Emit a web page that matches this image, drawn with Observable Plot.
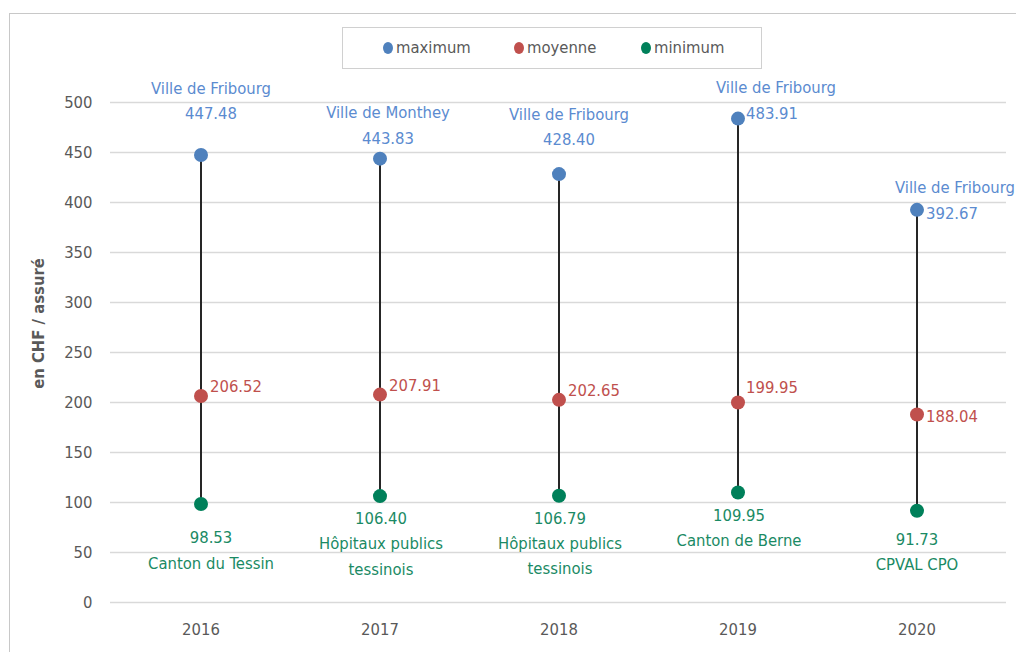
<!DOCTYPE html>
<html>
<head>
<meta charset="utf-8">
<script src="https://cdn.jsdelivr.net/npm/d3@7"></script>
<script src="https://cdn.jsdelivr.net/npm/@observablehq/plot@0.6"></script>
<style>
  html, body { margin: 0; padding: 0; background: #fff; }
  body { width: 1016px; height: 652px; overflow: hidden; position: relative;
         font-family: "Liberation Sans Narrow", "DejaVu Sans Condensed", "Roboto", sans-serif; }
  #frame { position: absolute; left: 9px; top: 13px; width: 1020px; height: 660px;
           border: 1px solid #c8c8c8; box-sizing: border-box; }
  #legend { position: absolute; left: 342px; top: 27px; width: 420px; height: 42px;
            border: 1px solid #d0d0d0; box-sizing: border-box; background: #fff; }
  .item { position: absolute; top: 9px; font-size: 16.5px; color: #595959; line-height: 22px; }
  .dot { display: inline-block; width: 10px; height: 12px; border-radius: 50%;
         margin-right: 3px; vertical-align: -1px; }
  #chart { position: absolute; left: 0; top: 80px; }
  #chart svg { overflow: visible; }
</style>
</head>
<body>
<div id="frame"></div>
<div id="legend"></div>
<div id="chart"></div>
<script>
const years = ["2016", "2017", "2018", "2019", "2020"];
const maxVals = [447.48, 443.83, 428.40, 483.91, 392.67];
const meanVals = [206.52, 207.91, 202.65, 199.95, 188.04];
const minVals = [98.53, 106.40, 106.79, 109.95, 91.73];
const maxNames = ["Ville de Fribourg", "Ville de Monthey", "Ville de Fribourg", "Ville de Fribourg", "Ville de Fribourg"];
const minNames = ["Canton du Tessin", "Hôpitaux publics\ntessinois", "Hôpitaux publics\ntessinois", "Canton de Berne", "CPVAL CPO"];
const yTicks = [0, 50, 100, 150, 200, 250, 300, 350, 400, 450, 500];
const seriesNames = ["maximum", "moyenne", "minimum"];
const seriesColors = ["#4F81BD", "#C0504D", "#00805A"];
const textColors = ["#5B8BD0", "#C0504D", "#1A8A64"];

const rows = years.map((y, i) => ({
  year: y, max: maxVals[i], mean: meanVals[i], min: minVals[i],
  maxName: maxNames[i], minName: minNames[i]
}));

const fmt = v => v.toFixed(2);
const FONT = "16.5px";
const pick = ys => rows.filter(r => ys.includes(r.year));

// legend
const legend = document.getElementById("legend");
const legendX = [40, 171, 298];
seriesNames.forEach((n, i) => {
  const d = document.createElement("div");
  d.className = "item";
  d.style.left = legendX[i] + "px";
  d.innerHTML = `<span class="dot" style="background:${seriesColors[i]}"></span>${n}`;
  legend.appendChild(d);
});

const chart = Plot.plot({
  width: 1016,
  height: 572,
  marginLeft: 110,
  marginRight: 10,
  marginTop: 22,
  marginBottom: 50,
  style: { fontFamily: '"Liberation Sans Narrow", "DejaVu Sans Condensed", sans-serif', fontSize: FONT, color: "#595959", background: "transparent" },
  x: { type: "band", domain: years, padding: 0, label: null },
  y: { domain: [0, 500], label: null },
  marks: [
    Plot.gridY(yTicks, { stroke: "#d9d9d9", strokeOpacity: 1, strokeWidth: 1.3 }),
    Plot.axisY(yTicks, { tickSize: 0, tickPadding: 18, fontSize: FONT, fill: "#595959", label: null }),
    Plot.axisX({ tickSize: 0, tickPadding: 21, fontSize: FONT, fill: "#595959", label: null }),
    Plot.text(["en CHF / assuré"], { frameAnchor: "left", textAnchor: "middle", rotate: -90, dx: -72, dy: -29, fontSize: FONT, fontWeight: "bold", fill: "#595959" }),
    Plot.ruleX(rows, { x: "year", y1: "min", y2: "max", stroke: "#262626", strokeWidth: 2 }),
    Plot.dot(rows, { x: "year", y: "max", r: 7, fill: seriesColors[0], stroke: "none" }),
    Plot.dot(rows, { x: "year", y: "mean", r: 7, fill: seriesColors[1], stroke: "none" }),
    Plot.dot(rows, { x: "year", y: "min", r: 7, fill: seriesColors[2], stroke: "none" }),

    // maximum labels
    Plot.text(pick(["2016"]), { x: "year", y: "max", text: d => fmt(d.max), dx: 10, dy: -41, fill: textColors[0], fontSize: FONT }),
    Plot.text(pick(["2016"]), { x: "year", y: "max", text: "maxName", dx: 10, dy: -66, fill: textColors[0], fontSize: FONT }),
    Plot.text(pick(["2017"]), { x: "year", y: "max", text: d => fmt(d.max), dx: 8, dy: -20, fill: textColors[0], fontSize: FONT }),
    Plot.text(pick(["2017"]), { x: "year", y: "max", text: "maxName", dx: 8, dy: -46, fill: textColors[0], fontSize: FONT }),
    Plot.text(pick(["2018"]), { x: "year", y: "max", text: d => fmt(d.max), dx: 10, dy: -34, fill: textColors[0], fontSize: FONT }),
    Plot.text(pick(["2018"]), { x: "year", y: "max", text: "maxName", dx: 10, dy: -59, fill: textColors[0], fontSize: FONT }),
    Plot.text(pick(["2019"]), { x: "year", y: "max", text: d => fmt(d.max), textAnchor: "start", dx: 8, dy: -5, fill: textColors[0], fontSize: FONT }),
    Plot.text(pick(["2019"]), { x: "year", y: "max", text: "maxName", dx: 38, dy: -31, fill: textColors[0], fontSize: FONT }),
    Plot.text(pick(["2020"]), { x: "year", y: "max", text: d => fmt(d.max), textAnchor: "start", dx: 9, dy: 4, fill: textColors[0], fontSize: FONT }),
    Plot.text(pick(["2020"]), { x: "year", y: "max", text: "maxName", dx: 38, dy: -22, fill: textColors[0], fontSize: FONT }),

    // mean labels
    Plot.text(pick(["2016", "2017", "2018"]), { x: "year", y: "mean", text: d => fmt(d.mean), textAnchor: "start", dx: 9, dy: -9, fill: textColors[1], fontSize: FONT }),
    Plot.text(pick(["2019"]), { x: "year", y: "mean", text: d => fmt(d.mean), textAnchor: "start", dx: 8, dy: -15, fill: textColors[1], fontSize: FONT }),
    Plot.text(pick(["2020"]), { x: "year", y: "mean", text: d => fmt(d.mean), textAnchor: "start", dx: 9, dy: 2, fill: textColors[1], fontSize: FONT }),

    // minimum labels
    Plot.text(pick(["2016"]), { x: "year", y: "min", text: d => fmt(d.min), dx: 10, dy: 34, fill: textColors[2], fontSize: FONT }),
    Plot.text(pick(["2016"]), { x: "year", y: "min", text: "minName", dx: 10, dy: 47, lineAnchor: "top", lineHeight: 1.55, fill: textColors[2], fontSize: FONT }),
    Plot.text(pick(["2017", "2018", "2019"]), { x: "year", y: "min", text: d => fmt(d.min), dx: 1, dy: 23, fill: textColors[2], fontSize: FONT }),
    Plot.text(pick(["2017", "2018", "2019"]), { x: "year", y: "min", text: "minName", dx: 1, dy: 35, lineAnchor: "top", lineHeight: 1.55, fill: textColors[2], fontSize: FONT }),
    Plot.text(pick(["2020"]), { x: "year", y: "min", text: d => fmt(d.min), dy: 29, fill: textColors[2], fontSize: FONT }),
    Plot.text(pick(["2020"]), { x: "year", y: "min", text: "minName", dy: 41, lineAnchor: "top", lineHeight: 1.55, fill: textColors[2], fontSize: FONT })
  ]
});
document.getElementById("chart").appendChild(chart);
</script>
</body>
</html>
